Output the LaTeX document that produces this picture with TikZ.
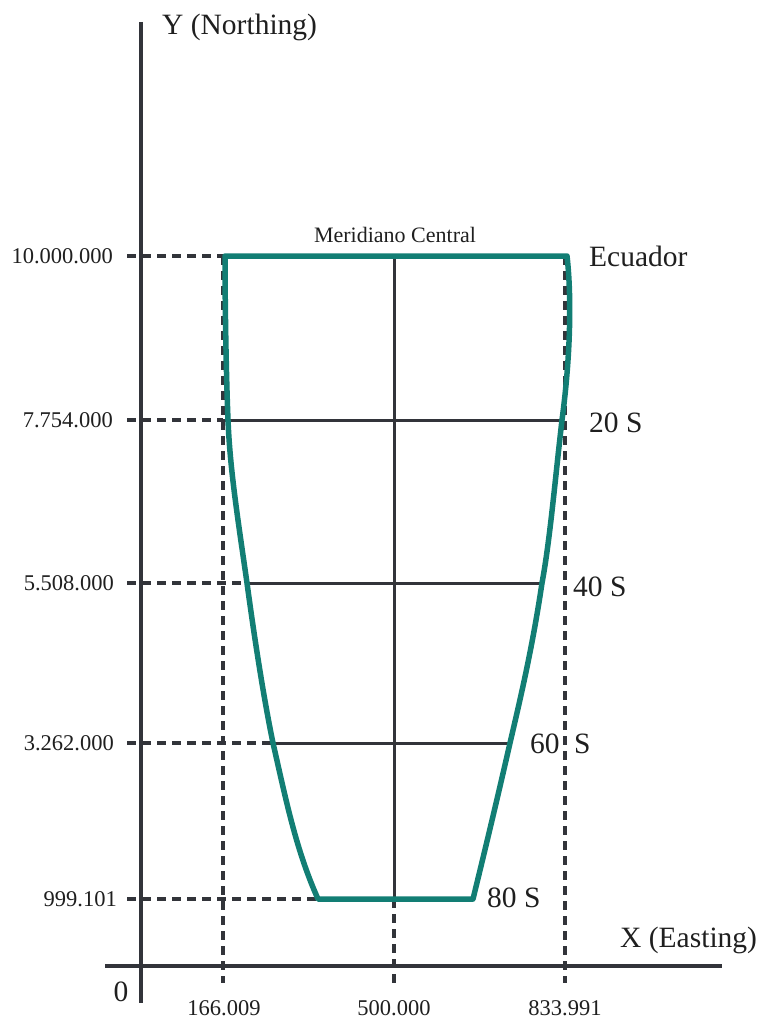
\documentclass[tikz,border=0pt]{standalone}
\usepackage{fontspec}
\setmainfont{Liberation Serif}
\definecolor{axisgray}{RGB}{50,52,58}
\definecolor{zonegreen}{RGB}{18,126,116}
\tikzset{
  axisline/.style={draw=axisgray, line width=4.2pt},
  gridline/.style={draw=axisgray, line width=3pt},
  dashline/.style={draw=axisgray, line width=3.5pt, dash pattern=on 9pt off 6pt},
  zoneline/.style={draw=zonegreen, line width=5.5pt, line join=round, line cap=round},
  lbl/.style={inner sep=0pt, font=\fontsize{22.5}{24}\selectfont, text=black!88},
  biglbl/.style={inner sep=0pt, font=\fontsize{29.5}{31}\selectfont, text=black!88},
}
\begin{document}
\begin{tikzpicture}[x=1pt,y=-1pt]
\useasboundingbox (0,0) rectangle (762,1019);
% coordinates
\coordinate (ytop) at (141,22);
\coordinate (ybot) at (141,1003);
\coordinate (xl) at (105,966);
\coordinate (xr) at (722,966);
% dashed verticals
\coordinate (vl0) at (223,256); \coordinate (vl1) at (223,983);
\coordinate (vr0) at (565,256); \coordinate (vr1) at (565,983);
\coordinate (vm0) at (394,256); \coordinate (vm1) at (394,899); \coordinate (vm2) at (394,983);
% y ticks
\coordinate (t0) at (127,256); \coordinate (t1) at (127,420); \coordinate (t2) at (127,583);
\coordinate (t3) at (127,743); \coordinate (t4) at (127,899);
% boundary points
\coordinate (L0) at (225,256); \coordinate (L1) at (228,420); \coordinate (L2) at (247,583);
\coordinate (L3) at (273,743); \coordinate (L4) at (318,899);
\coordinate (R0) at (567,256); \coordinate (R1) at (562,420); \coordinate (R2) at (542,583);
\coordinate (R3) at (510,743); \coordinate (R4) at (473,899);

% axes
\draw[axisline] (ytop) -- (ybot);
\draw[axisline] (xl) -- (xr);
% dashed lines
\draw[dashline] (vl0) -- (vl1);
\draw[dashline] (vr0) -- (vr1);
\draw[dashline] (vm1) -- (vm2);
\draw[dashline] (t0) -- (L0);
\draw[dashline] (t1) -- (vl0 |- t1);
\draw[dashline] (t2) -- (L2);
\draw[dashline] (t3) -- (L3);
\draw[dashline] (t4) -- (L4);
% grid lines
\draw[gridline] (vm0) -- (vm1);
\draw[gridline] (vl0 |- t1) -- (R1);
\draw[gridline] (L2) -- (R2);
\draw[gridline] (L3) -- (R3);
% zone boundary
\draw[zoneline] (L4) .. controls (296,850) and (286,800) .. (L3)
  .. controls (262,690) and (252,620) .. (L2)
  .. controls (238,520) and (230,470) .. (L1)
  .. controls (226,370) and (225,300) .. (L0)
  -- (R0)
  .. controls (572,300) and (570,360) .. (R1)
  .. controls (555,480) and (550,540) .. (R2)
  .. controls (532,650) and (520,700) .. (R3)
  .. controls (497,800) and (485,850) .. (R4)
  -- cycle;

% labels
\node[biglbl, anchor=west] (ylab) at (162,27) {Y (Northing)};
\node[biglbl, anchor=west] (xlab) at (620,940) {X (Easting)};
\node[lbl, anchor=east] (y0) at (113,256) {10.000.000};
\node[lbl, anchor=east] (y1) at (113,420) {7.754.000};
\node[lbl, anchor=east] (y2) at (114,583) {5.508.000};
\node[lbl, anchor=east] (y3) at (114,743) {3.262.000};
\node[lbl, anchor=east] (y4) at (117,899) {999.101};
\node[lbl] (x1) at (224,1008) {166.009};
\node[lbl] (x2) at (394,1008) {500.000};
\node[lbl] (x3) at (565,1008) {833.991};
\node[biglbl] (zero) at (121,992) {0};
\node[lbl, anchor=base, font=\fontsize{22}{24}\selectfont] (mer) at (395,242) {Meridiano Central};
\node[biglbl, anchor=west] (ecu) at (589,256) {Ecuador};
\node[biglbl, anchor=west] (s20) at (589,423) {20 S};
\node[biglbl, anchor=west] (s40) at (573,587) {40 S};
\node[biglbl, anchor=west] (s60a) at (530,744) {60};
\node[biglbl, anchor=west] (s60b) at (574,744) {S};
\node[biglbl, anchor=west] (s80) at (487,898) {80 S};
\end{tikzpicture}
\end{document}
